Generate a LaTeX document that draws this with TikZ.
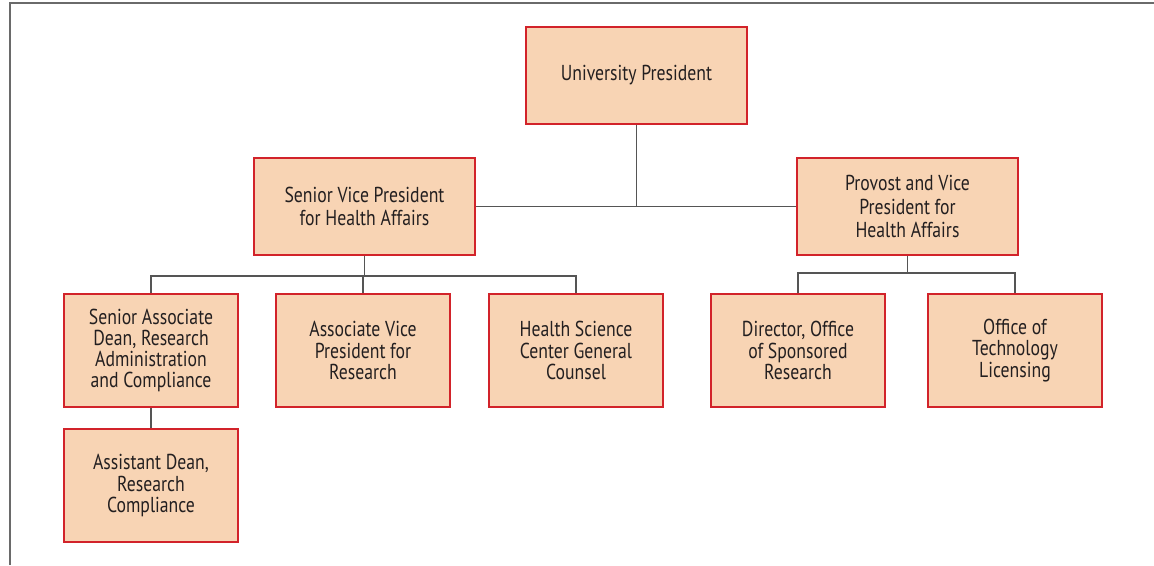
\documentclass[tikz,border=0pt]{standalone}
\usepackage{fontspec}
\setmainfont[FakeStretch=0.82]{PT Sans}
\definecolor{boxfill}{HTML}{F8D4B4}
\definecolor{boxline}{HTML}{D2232A}
\definecolor{conn}{HTML}{555555}
\definecolor{framec}{HTML}{6A6A6A}
\definecolor{txt}{HTML}{231F20}
\begin{document}
\begin{tikzpicture}[x=0.75pt,y=-0.75pt,
  orgbox/.style={draw=boxline, fill=boxfill, line width=1.1pt, text=txt, align=center, inner sep=0pt},
  bigbox/.style={orgbox, minimum width=221*0.75pt, minimum height=97*0.75pt, font=\fontsize{16.2pt}{17.8pt}\selectfont},
  smallbox/.style={orgbox, minimum width=174*0.75pt, minimum height=113*0.75pt, font=\fontsize{16.2pt}{15.9pt}\selectfont},
  link/.style={draw=conn, line width=1.2pt}]
\useasboundingbox (0,0) rectangle (1154,565);
\draw[framec, line width=1.5pt] (10,565) -- (10,2.5) -- (1154,2.5);
\node[bigbox] (pres) at (636.5,75.5) {University President};
\node[bigbox] (svp) at (364.5,206.5) {Senior Vice President\\for Health Affairs};
\node[bigbox] (prov) at (907.5,206.5) {Provost and Vice\\President for\\Health Affairs};
\node[smallbox] (sad) at (151,350.5) {Senior Associate\\Dean, Research\\Administration\\and Compliance};
\node[smallbox] (avp) at (363,350.5) {Associate Vice\\President for\\Research};
\node[smallbox] (hsc) at (576,350.5) {Health Science\\Center General\\Counsel};
\node[smallbox] (dir) at (798,350.5) {Director, Office\\of Sponsored\\Research};
\node[smallbox] (otl) at (1015,350.5) {Office of\\Technology\\Licensing};
\node[smallbox] (asd) at (151,485.5) {Assistant Dean,\\Research\\Compliance};
\coordinate (busa) at (0,276);
\coordinate (busb) at (0,273);
\draw[link] (pres.south) -- (pres.south |- svp.east);
\draw[link] (svp.east) -- (prov.west);
\draw[link] (svp.south) -- (svp.south |- busa);
\draw[link] (sad.north) -- (sad.north |- busa) -- (hsc.north |- busa) -- (hsc.north);
\draw[link] (avp.north) -- (avp.north |- busa);
\draw[link] (prov.south) -- (prov.south |- busb);
\draw[link] (dir.north) -- (dir.north |- busb) -- (otl.north |- busb) -- (otl.north);
\draw[link] (sad.south) -- (asd.north);
\end{tikzpicture}
\end{document}
